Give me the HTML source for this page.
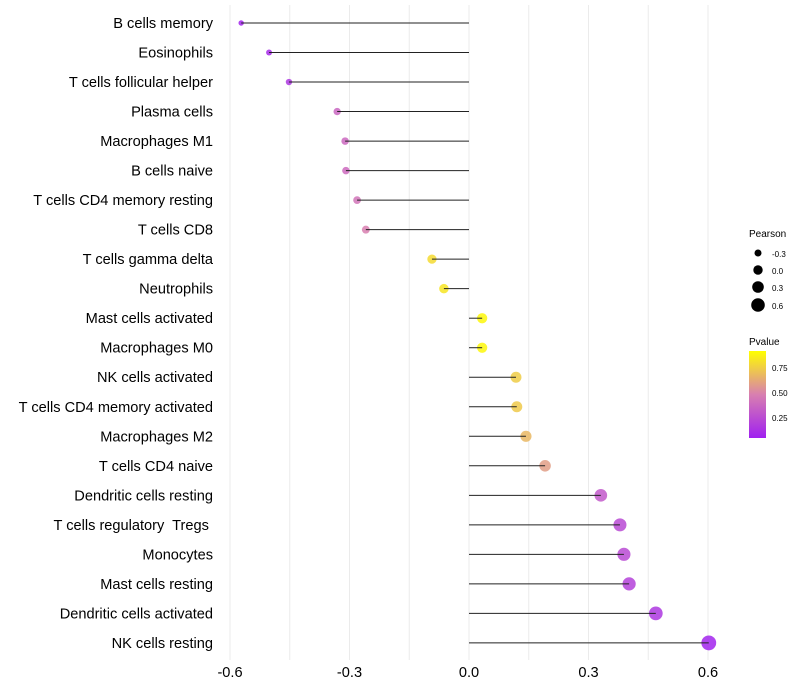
<!DOCTYPE html>
<html><head><meta charset="utf-8"><style>
body{margin:0;background:#fff;}
svg{display:block;font-family:"Liberation Sans",sans-serif;}
#ylabels text{white-space:pre;}
</style></head><body>
<svg id="chart" width="800" height="700">
<defs><linearGradient id="pg" x1="0" y1="1" x2="0" y2="0">
<stop offset="0" stop-color="#a020f0"/><stop offset="0.5" stop-color="#d87fb0"/><stop offset="1" stop-color="#ffff00"/>
</linearGradient></defs>
<g id="grid"></g><g id="marks"></g><g id="ylabels"></g><g id="xlabels"></g>
<g>
<text x="749" y="237" font-size="10">Pearson</text>
<circle cx="758" cy="253" r="3.5"/><text x="772" y="257" font-size="8">-0.3</text>
<circle cx="758" cy="270" r="4.7"/><text x="772" y="274" font-size="8">0.0</text>
<circle cx="758" cy="287" r="5.8"/><text x="772" y="291" font-size="8">0.3</text>
<circle cx="758" cy="305" r="6.8"/><text x="772" y="309" font-size="8">0.6</text>
<text x="749" y="345" font-size="10">Pvalue</text>
<rect x="749" y="351" width="17" height="87" fill="url(#pg)"/>
<text x="772" y="371" font-size="8">0.75</text>
<text x="772" y="396" font-size="8">0.50</text>
<text x="772" y="421" font-size="8">0.25</text>
</g>
</svg>
<script>
const categories=["B cells memory","Eosinophils","T cells follicular helper","Plasma cells","Macrophages M1","B cells naive","T cells CD4 memory resting","T cells CD8","T cells gamma delta","Neutrophils","Mast cells activated","Macrophages M0","NK cells activated","T cells CD4 memory activated","Macrophages M2","T cells CD4 naive","Dendritic cells resting","T cells regulatory  Tregs ","Monocytes","Mast cells resting","Dendritic cells activated","NK cells resting"];
const pearson=[-0.572,-0.502,-0.452,-0.331,-0.311,-0.309,-0.281,-0.259,-0.093,-0.063,0.033,0.033,0.118,0.12,0.143,0.191,0.331,0.379,0.389,0.402,0.469,0.602];
const pvalues=[0.02,0.06,0.12,0.37,0.38,0.39,0.44,0.5,0.86,0.9,0.97,0.97,0.8,0.79,0.72,0.62,0.3,0.22,0.22,0.18,0.12,0.02];
const xticks=[-0.6,-0.3,0.0,0.3,0.6];
const xs=v=>469+v*398.3;
const ys=i=>23+i*29.52;
const rs=v=>Math.max(1.8,5+v*4);
function col(p){const a=[160,32,240],b=[216,127,176],c=[255,255,0];let t,s,e;if(p<0.5){t=p/0.5;s=a;e=b}else{t=(p-0.5)/0.5;s=b;e=c}return `rgb(${s.map((x,k)=>Math.round(x+(e[k]-x)*t)).join(",")})`;}
const NS="http://www.w3.org/2000/svg";
const mk=(t,a,p)=>{const el=document.createElementNS(NS,t);for(const k in a)el.setAttribute(k,a[k]);document.getElementById(p).appendChild(el);return el;};
[-0.6,-0.45,-0.3,-0.15,0,0.15,0.3,0.45,0.6].forEach(v=>{const l=mk("line",{x1:xs(v),x2:xs(v),y1:5,y2:660,stroke:"#ebebeb","stroke-width":1},"grid");

});
categories.forEach((c,i)=>{
const cy=ys(i);
const pt=mk("circle",{cx:xs(pearson[i]),cy:cy,r:rs(pearson[i]),fill:col(pvalues[i]),"fill-opacity":0.85},"marks");


const ln=mk("line",{x1:xs(0),x2:xs(pearson[i]),y1:cy,y2:cy,stroke:"#222","stroke-width":1},"marks");


const t=mk("text",{x:213,y:cy+5,"text-anchor":"end","font-size":14.6,fill:"#000"},"ylabels");
t.textContent=c;


});
xticks.forEach(v=>{const t=mk("text",{x:xs(v),y:677,"text-anchor":"middle","font-size":14.6,fill:"#000"},"xlabels");
t.textContent=v.toFixed(1);

});
</script>
</body></html>
